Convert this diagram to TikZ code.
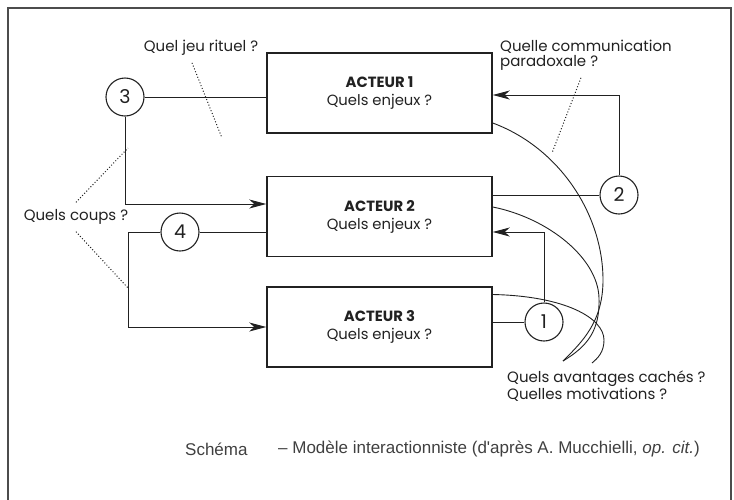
\documentclass[tikz,border=0pt]{standalone}
\usepackage{fontspec}
\setmainfont{Poppins}
\newfontfamily\legende{Liberation Sans}
\usetikzlibrary{arrows.meta, positioning, calc}
\definecolor{trait}{rgb}{0.13,0.13,0.13}
\definecolor{cadre}{rgb}{0.3,0.3,0.3}
\definecolor{gris}{rgb}{0.25,0.25,0.25}
\tikzset{
  acteur/.style={draw=trait, line width=1.5pt, minimum width=225pt, minimum height=80pt, align=center, inner sep=0pt, text=trait, font=\fontsize{14.8}{18}\selectfont},
  rond/.style={draw=trait, circle, line width=1.1pt, minimum size=38pt, inner sep=0pt, text=trait, font=\fontsize{19}{19}\selectfont},
  lien/.style={draw=trait, line width=1pt},
  fleche/.style={lien, -{Stealth[length=17pt, width=9pt, inset=5pt]}},
  pointille/.style={draw=trait, line width=1pt, dotted},
  courbe/.style={draw=trait, line width=0.9pt},
  note/.style={inner sep=0pt, align=left, text=trait, font=\fontsize{15}{15}\selectfont},
  legende/.style={anchor=west, inner sep=0pt, text=gris, font=\legende\fontsize{17}{18}\selectfont},
}

\begin{document}
\begin{tikzpicture}[x=1pt, y=-1pt]
    \useasboundingbox (0,0) rectangle (734,499);
    \draw[cadre, line width=1.6pt] (8,505) -- (8,8) -- (731,8) -- (731,505);

    \node[acteur] (a1) at (379.5,93) {\textbf{ACTEUR 1}\\Quels enjeux ?};
    \node[acteur, below=42pt of a1] (a2) {\textbf{ACTEUR 2}\\Quels enjeux ?};
    \node[acteur, below=29pt of a2] (a3) {\textbf{ACTEUR 3}\\Quels enjeux ?};

    \node[rond] (c3) at (125,97) {3};
    \node[rond] (c4) at (180,232) {4};
    \node[rond] (c2) at (619,195) {2};
    \node[rond] (c1) at (544,322) {1};

    \node[note] (jeu) at (201,48) {Quel jeu rituel ?};
    \node[note, anchor=west] (paradoxe) at (500,55.5) {Quelle communication\\paradoxale ?};
    \node[note, anchor=west] (avantages) at (507,386) {Quels avantages cachés ?\\Quelles motivations ?};
    \node[note] (coups) at (76,217) {Quels coups ?};

    \node[legende] (schema) at (185,449) {Schéma};
    \node[legende] (modele) at (278,449)
      {– Modèle interactionniste (d'après A. Mucchielli, \textit{op. cit.})};

    \coordinate (k4) at (128,232);
    \draw[lien] (c3) -- (c3 -| a1.west);
    \draw[fleche] (c3) |- ([yshift=12.5pt]a2.west);
    \draw[lien] (c4) -- (c4 -| a2.west);
    \draw[fleche] (c4) -- (k4) |- (a3.west);
    \draw[lien] (a2.east |- c2) -- (c2);
    \draw[fleche] (c2) |- ([yshift=-2pt]a1.east);
    \draw[lien] (a3.east |- c1) -- (c1);
    \draw[fleche] (c1) |- ([yshift=-15.5pt]a2.east);

    \coordinate (pointe) at (563,361);
    \coordinate (crochet) at (592,363);
    \draw[courbe] ([yshift=-30pt]a1.east) .. controls (560,148) and (603,215) .. (603,280)
      .. controls (603,322) and (582,342) .. (pointe);
    \draw[courbe] ([yshift=9.5pt]a2.east) .. controls (548,218) and (598,258) .. (599,298)
      .. controls (600,330) and (588,346) .. (pointe);
    \draw[courbe] ([yshift=32.5pt]a3.east) .. controls (565,296) and (604,318) .. (604,340)
      .. controls (604,352) and (598,358) .. (crochet);

    \coordinate (jeu-bout) at (222,138);
    \coordinate (para-bout) at (552,153);
    \coordinate (coups-haut) at (128,148);
    \coordinate (coups-bas) at (128,288);
    \draw[pointille] ([xshift=-9pt,yshift=-7pt]jeu.south) -- (jeu-bout);
    \draw[pointille] ([xshift=-5pt,yshift=-7pt]paradoxe.south) -- (para-bout);
    \draw[pointille] ([yshift=7pt]coups.north) -- (coups-haut);
    \draw[pointille] ([yshift=-7pt]coups.south) -- (coups-bas);
\end{tikzpicture}
\end{document}
